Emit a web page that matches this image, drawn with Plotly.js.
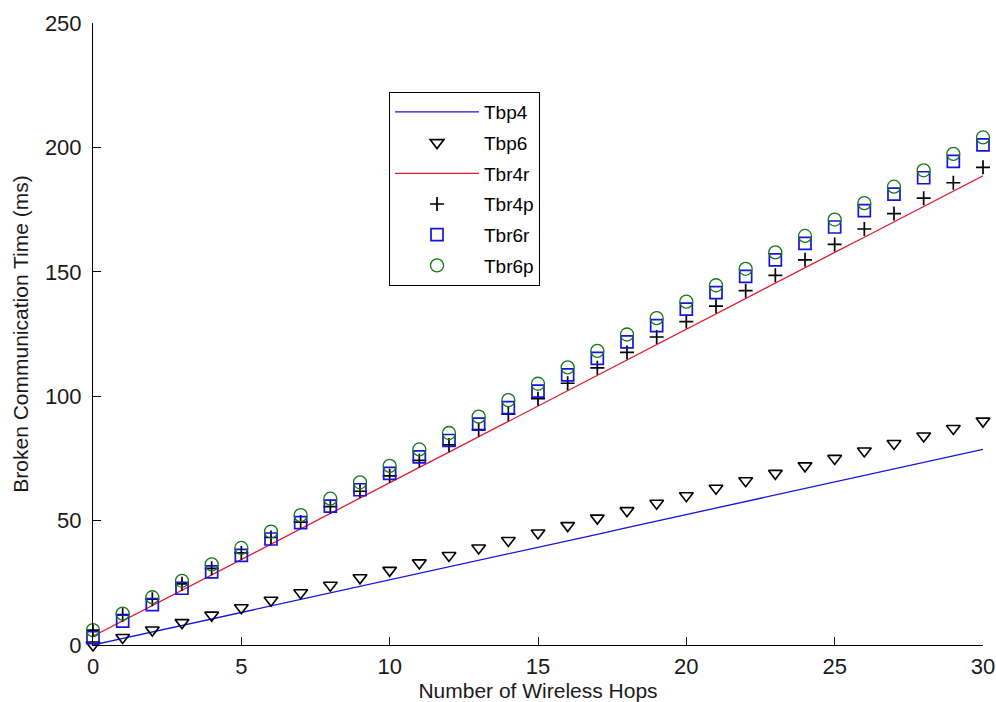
<!DOCTYPE html>
<html>
<head>
<meta charset="utf-8">
<script src="https://cdn.plot.ly/plotly-3.0.1.min.js"></script>
<style>
  html, body { margin: 0; padding: 0; background: #ffffff; }
  #chart { width: 996px; height: 702px; }
</style>
</head>
<body>
<div id="chart"></div>
<script>
// Number of wireless hops
const hops = [0, 1, 2, 3, 4, 5, 6, 7, 8, 9, 10, 11, 12, 13, 14, 15, 16, 17, 18, 19, 20,
              21, 22, 23, 24, 25, 26, 27, 28, 29, 30];

// Broken communication time (ms) for each scheme
const tbp4 = [0, 2.6, 5.2, 7.9, 10.5, 13.1, 15.7, 18.3, 21.0, 23.6, 26.2, 28.8, 31.4, 34.1,
              36.7, 39.3, 41.9, 44.5, 47.2, 49.8, 52.4, 55.0, 57.6, 60.3, 62.9, 65.5, 68.1,
              70.7, 73.4, 76.0, 78.6];
const tbp6 = [0, 3, 6, 9, 12, 15, 18, 21, 24, 27, 30, 33, 36, 39, 42, 45, 48, 51, 54, 57,
              60, 63, 66, 69, 72, 75, 78, 81, 84, 87, 90];
const tbr4r = [3.5, 9.7, 15.8, 22.0, 28.2, 34.4, 40.5, 46.7, 52.9, 59.0, 65.2, 71.4, 77.5,
               83.7, 89.9, 96.1, 102.2, 108.4, 114.6, 120.7, 126.9, 133.1, 139.2, 145.4,
               151.6, 157.8, 163.9, 170.1, 176.3, 182.4, 188.6];
const tbr4p = [6, 12.2, 18.4, 24.6, 30.8, 37, 43.2, 49.4, 55.6, 61.8, 68, 74.2, 80.4, 86.6,
               92.8, 99, 105.2, 111.4, 117.6, 123.8, 130, 136.2, 142.4, 148.6, 154.8, 161,
               167.2, 173.4, 179.6, 185.8, 192];
const tbr6r = [3, 9.6, 16.2, 22.8, 29.4, 36, 42.6, 49.2, 55.8, 62.4, 69, 75.6, 82.2, 88.8,
               95.4, 102, 108.6, 115.2, 121.8, 128.4, 135, 141.6, 148.2, 154.8, 161.4, 168,
               174.6, 181.2, 187.8, 194.4, 201];
const tbr6p = [6, 12.6, 19.2, 25.8, 32.4, 39, 45.6, 52.2, 58.8, 65.4, 72, 78.6, 85.2, 91.8,
               98.4, 105, 111.6, 118.2, 124.8, 131.4, 138, 144.6, 151.2, 157.8, 164.4, 171,
               177.6, 184.2, 190.8, 197.4, 204];

const FONT = '"Liberation Sans", Arial, Helvetica, sans-serif';
const BLUE = 'rgb(20,20,220)';
const RED = 'rgb(226,26,52)';
const GREEN = 'rgb(20,120,20)';

const traces = [
  { name: 'Tbp4', x: hops, y: tbp4, mode: 'lines', legendgroup: 'a',
    line: { color: BLUE, width: 1.3 } },
  { name: 'Tbp6', x: hops, y: tbp6, mode: 'markers', legendgroup: 'b',
    marker: { symbol: 'triangle-down-open', size: 12, color: '#000000',
              line: { width: 1.6, color: '#000000' } } },
  { name: 'Tbr4r', x: hops, y: tbr4r, mode: 'lines', legendgroup: 'c',
    line: { color: RED, width: 1.3 } },
  { name: 'Tbr4p', x: hops, y: tbr4p, mode: 'markers', legendgroup: 'd',
    marker: { symbol: 'cross-thin-open', size: 10, color: '#000000',
              line: { width: 1.7, color: '#000000' } } },
  { name: 'Tbr6r', x: hops, y: tbr6r, mode: 'markers', legendgroup: 'e',
    marker: { symbol: 'square-open', size: 12, color: BLUE,
              line: { width: 1.7, color: BLUE } } },
  { name: 'Tbr6p', x: hops, y: tbr6p, mode: 'markers', legendgroup: 'f',
    marker: { symbol: 'circle-open', size: 13, color: GREEN,
              line: { width: 1.3, color: GREEN } } }
].map(t => Object.assign({ type: 'scatter', cliponaxis: false }, t));

const axisCommon = {
  showline: true, linecolor: '#000000', linewidth: 1,
  ticks: 'inside', ticklen: 8, tickwidth: 1, tickcolor: '#000000',
  showgrid: false, zeroline: false, mirror: false,
  tickfont: { family: FONT, size: 22, color: '#1a1a1a' }
};

const layout = {
  width: 996, height: 702,
  margin: { l: 93, r: 13, t: 23, b: 57, pad: 0 },
  paper_bgcolor: '#ffffff', plot_bgcolor: '#ffffff',
  showlegend: true,
  xaxis: Object.assign({}, axisCommon, {
    range: [0, 30], dtick: 5, tick0: 0, ticklabelstandoff: 2,
    title: { text: 'Number of Wireless Hops', standoff: 4,
             font: { family: FONT, size: 21, color: '#1a1a1a' } }
  }),
  yaxis: Object.assign({}, axisCommon, {
    range: [0, 250], dtick: 50, tick0: 0, ticklabelstandoff: 6,
    title: { text: 'Broken Communication Time (ms)', standoff: 10,
             font: { family: FONT, size: 21, color: '#1a1a1a' } }
  }),
  legend: {
    x: 0.3326, y: 0.889, xanchor: 'left', yanchor: 'top',
    bgcolor: '#ffffff', bordercolor: '#000000', borderwidth: 1,
    font: { family: FONT, size: 19, color: '#000000' },
    traceorder: 'grouped', tracegroupgap: 3, itemwidth: 84,
    entrywidth: 70, entrywidthmode: 'pixels'
  }
};

Plotly.newPlot('chart', traces, layout, { displayModeBar: false, staticPlot: true });
</script>
</body>
</html>
